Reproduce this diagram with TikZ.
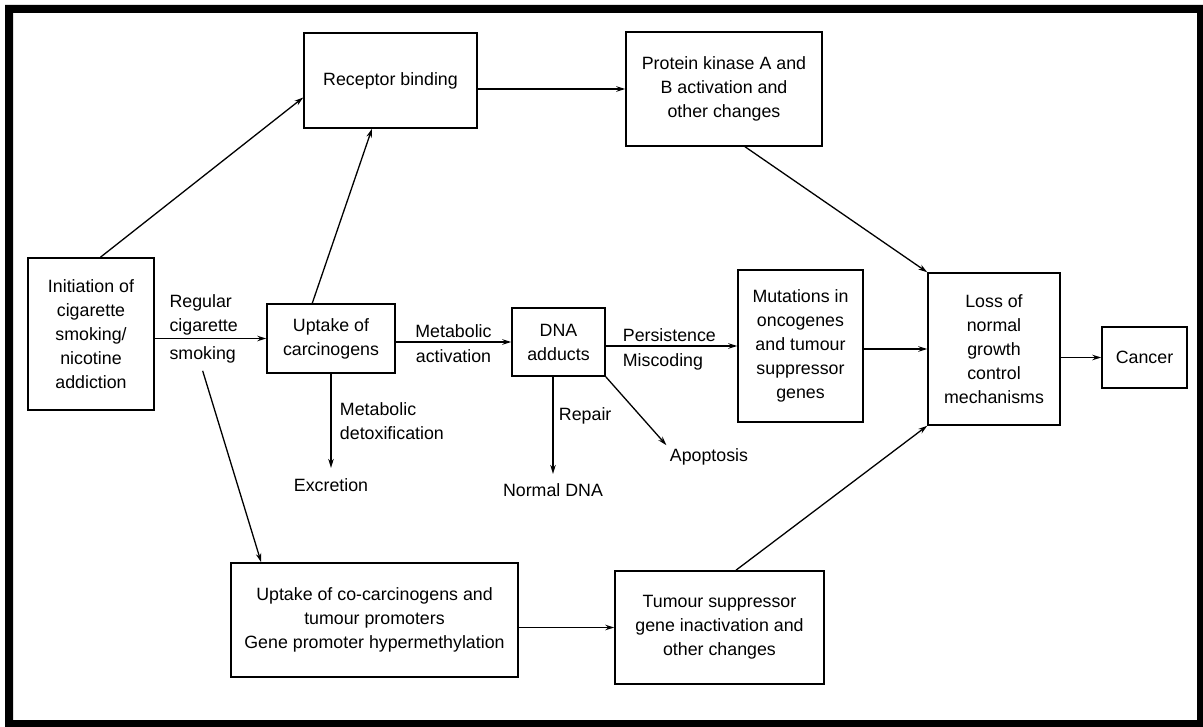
\documentclass[tikz,border=0pt]{standalone}
\usepackage{fontspec}
\setmainfont{Liberation Sans}
\usetikzlibrary{arrows.meta}

\begin{document}
\begin{tikzpicture}[x=1pt,y=-1pt,
  font=\fontsize{17.8}{24}\selectfont,
  box/.style={draw,line width=1.5pt,inner sep=0pt,align=center},
  lbl/.style={align=left},
  arr/.style={->,line width=1.3pt},
  >={Stealth[length=9pt,width=5.5pt]}]
 \useasboundingbox (0,0) rectangle (1203,727);
 \fill[even odd rule] (5,5) rectangle (1203,727) (13,13) rectangle (1197,720);

 % boxes
 \node[box,minimum width=126pt,minimum height=152pt] (init) at (91,334) {Initiation of\\cigarette\\smoking/\\nicotine\\addiction};
 \node[box,minimum width=173pt,minimum height=95pt] (recep) at (390.5,80.5) {Receptor binding};
 \node[box,minimum width=196pt,minimum height=114pt] (prot) at (724,89) {Protein kinase A and\\B activation and\\other changes};
 \node[box,minimum width=128pt,minimum height=69pt] (upc) at (331,338.5) {Uptake of\\carcinogens};
 \node[box,minimum width=93pt,minimum height=68pt] (dna) at (558.5,342) {DNA\\adducts};
 \node[box,minimum width=125pt,minimum height=152pt] (mut) at (800.5,346) {Mutations in\\oncogenes\\and tumour\\suppressor\\genes};
 \node[box,minimum width=132pt,minimum height=152pt] (loss) at (994,349) {Loss of\\normal\\growth\\control\\mechanisms};
 \node[box,minimum width=85pt,minimum height=61pt] (cancer) at (1144.5,357.5) {Cancer};
 \node[box,minimum width=287pt,minimum height=114pt] (cocarc) at (374.5,620) {Uptake of co-carcinogens and\\tumour promoters\\Gene promoter hypermethylation};
 \node[box,minimum width=209pt,minimum height=113pt] (tumsup) at (719.5,627.5) {Tumour suppressor\\gene inactivation and\\other changes};

 % free labels
 \node[lbl,anchor=west] (regcig) at (166,315) {Regular\\cigarette};
 \node[lbl,anchor=west] (smk) at (166,355) {smoking};
 \node (exc) at (331,485) {Excretion};
 \node (ndna) at (553,490) {Normal DNA};
 \node (apop) at (709,457) {Apoptosis};

 % connectors
 \draw[arr] (init.83) -- (recep.191);
 \draw[arr] (upc.118) -- (recep.249);
 \draw[arr] (recep.east |- prot.west) -- (prot.west);
 \draw[arr] (prot.290) -- (loss.north west);
 \draw[arr] (init.east |- upc.west) -- (upc.west);
 \draw[arr] ([yshift=-4pt]smk.south) -- (cocarc.153);
 \draw[arr] (upc.south) -- node[lbl,right,pos=0.5,xshift=5pt]{Metabolic\\detoxification} ([yshift=7pt]exc.north);
 \draw[arr] (upc.east |- dna.west) -- node[above]{Metabolic} node[below,yshift=-4pt]{activation} (dna.west);
 \draw[arr] (dna.east |- mut.west) -- node[above right,pos=0.1]{Persistence} node[below right,pos=0.1,yshift=-4pt]{Miscoding} (mut.west);
 \draw[arr] (dna.south -| ndna) -- node[right,pos=0.4,xshift=2pt]{Repair} ([yshift=6pt]ndna.north);
 \draw[arr] (dna.south east) -- (apop.north west);
 \draw[arr] (mut.east |- loss.west) -- (loss.west);
 \draw[arr] (loss.east |- cancer.west) -- (cancer.west);
 \draw[arr] (cocarc.east |- tumsup.west) -- (tumsup.west);
 \draw[arr] (tumsup.74) -- (loss.south west);
\end{tikzpicture}
\end{document}
